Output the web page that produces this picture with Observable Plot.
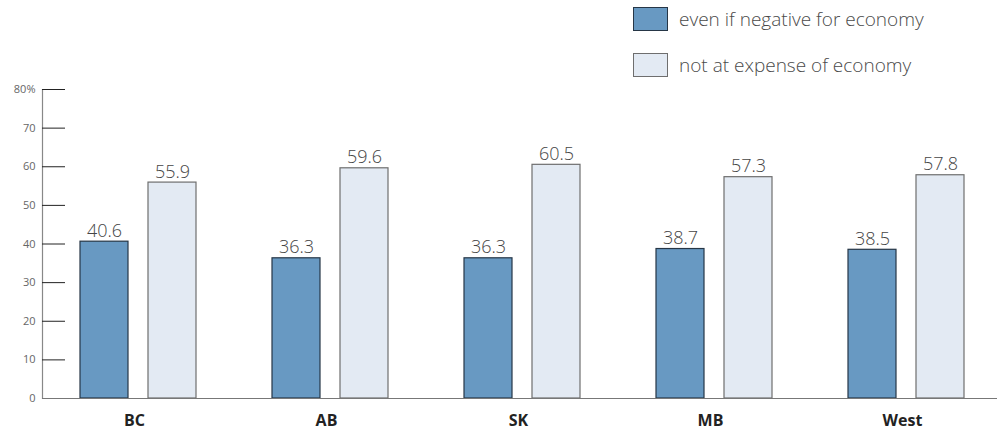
<!DOCTYPE html>
<html>
<head>
<meta charset="utf-8">
<script src="https://cdn.jsdelivr.net/npm/d3@7"></script>
<script src="https://cdn.jsdelivr.net/npm/@observablehq/plot@0.6"></script>
<style>
  html, body { margin: 0; padding: 0; background: #fff; }
  body { width: 997px; height: 432px; overflow: hidden; font-family: "Open Sans", sans-serif; }
  #legend { position: relative; width: 997px; height: 84px; }
  .sw { position: absolute; left: 633px; width: 35px; height: 24px; box-sizing: border-box; }
  .lt { position: absolute; left: 679px; font-size: 19px; color: #4a4a4a; font-weight: 300; line-height: 24px; white-space: nowrap; }
  #chart svg { display: block; }
</style>
</head>
<body>
<div id="legend"></div>
<div id="chart"></div>
<script>
const categories = ["BC", "AB", "SK", "MB", "West"];
const evenIfNegative = [40.6, 36.3, 36.3, 38.7, 38.5];
const notAtExpense = [55.9, 59.6, 60.5, 57.3, 57.8];
const seriesNames = ["even if negative for economy", "not at expense of economy"];
const yTicks = [0, 10, 20, 30, 40, 50, 60, 70, 80];

const darkFill = "#6899c2", darkStroke = "#263646";
const lightFill = "#e3eaf3", lightStroke = "#6e6e6e";

// legend
const legend = document.getElementById("legend");
[[seriesNames[0], darkFill, darkStroke, 7], [seriesNames[1], lightFill, lightStroke, 53]].forEach(([name, fill, stroke, top]) => {
  const sw = document.createElement("div");
  sw.className = "sw";
  sw.style.top = top + "px";
  sw.style.background = fill;
  sw.style.border = "1.5px solid " + stroke;
  legend.appendChild(sw);
  const t = document.createElement("div");
  t.className = "lt";
  t.style.top = top + "px";
  t.textContent = name;
  legend.appendChild(t);
});

const data = categories.map((c, i) => ({cat: c, neg: evenIfNegative[i], exp: notAtExpense[i]}));

const chart = Plot.plot({
  width: 997,
  height: 348,
  marginLeft: 42,
  marginRight: 0,
  marginTop: 5,
  marginBottom: 34,
  style: {fontFamily: "Open Sans, sans-serif", background: "#fff", overflow: "visible"},
  x: {domain: categories, range: [42, 1002], padding: 0, label: null},
  y: {domain: [0, 80], label: null},
  marks: [
    Plot.frame({anchor: "left", stroke: "#888", strokeWidth: 1.2}),
    Plot.axisY(yTicks, {tickSize: -23, stroke: "#222", tickFormat: () => "", label: null}),
    Plot.axisY(yTicks, {
      tickSize: 0, tickPadding: 7,
      tickFormat: d => d === 80 ? "80%" : String(d),
      fontSize: 11, fill: "#666", label: null
    }),
    Plot.axisX({tickSize: 0, tickPadding: 16, fontSize: 16, fontWeight: "bold", fill: "#222", dx: -4, label: null}),
    Plot.barY(data, {x: "cat", y: "neg", fill: darkFill, stroke: darkStroke, strokeWidth: 1.2, insetLeft: 38, insetRight: 106}),
    Plot.barY(data, {x: "cat", y: "exp", fill: lightFill, stroke: lightStroke, strokeWidth: 1.2, insetLeft: 106, insetRight: 38}),
    Plot.ruleY([0], {stroke: "#777", strokeWidth: 1.2}),
    Plot.text(data, {x: "cat", y: "neg", text: d => d.neg.toFixed(1), dx: -34, dy: -5, lineAnchor: "bottom", fontSize: 18, fontWeight: 300, fill: "#444"}),
    Plot.text(data, {x: "cat", y: "exp", text: d => d.exp.toFixed(1), dx: 34, dy: -5, lineAnchor: "bottom", fontSize: 18, fontWeight: 300, fill: "#444"})
  ]
});
document.getElementById("chart").appendChild(chart);
</script>
</body>
</html>
